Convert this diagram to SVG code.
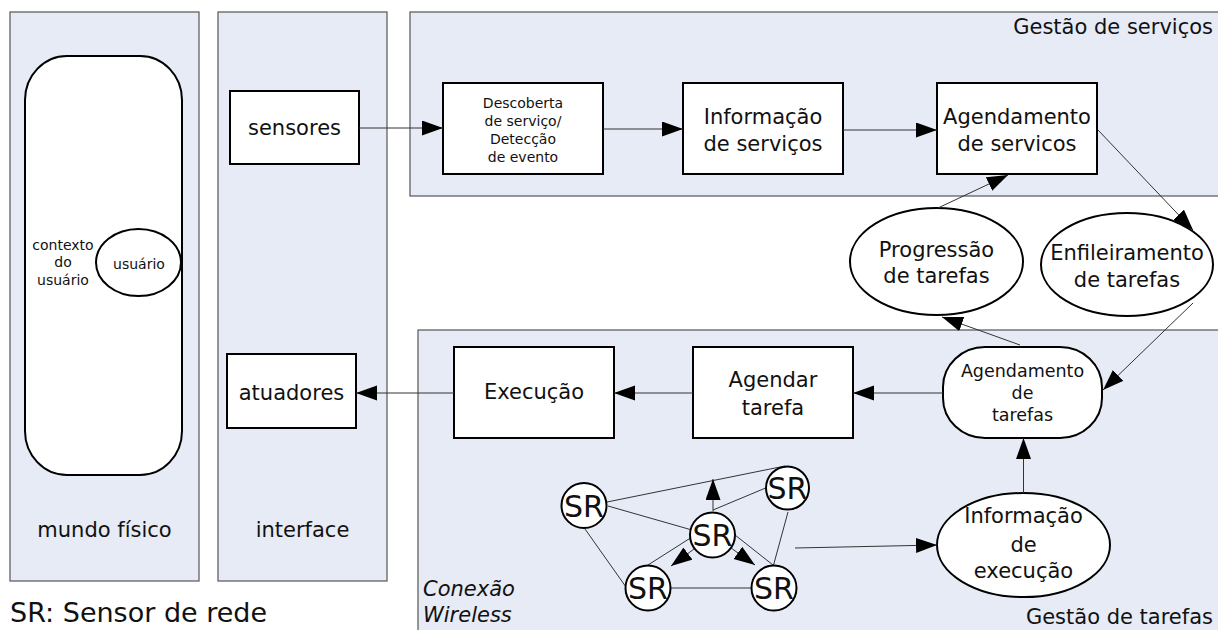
<svg xmlns="http://www.w3.org/2000/svg" width="1218" height="630" viewBox="0 0 1218 630">
<style>
  .panel { fill: #e6ebf5; stroke: #555; stroke-width: 1.2; }
  .box { fill: #fff; stroke: #000; stroke-width: 2; }
  .conn { stroke: #333; stroke-width: 1; fill: none; }
  .net { stroke: #333; stroke-width: 1; fill: none; }
  text { font-family: "DejaVu Sans", Verdana, sans-serif; fill: #111; }
  .c { text-anchor: middle; }
  .f21 { font-size: 21px; }
  .f14 { font-size: 14px; }
  .f17 { font-size: 17.5px; }
  .sr { font-size: 30px; text-anchor: middle; }
</style>
<defs>
  <marker id="ah" markerUnits="userSpaceOnUse" markerWidth="22" markerHeight="16" refX="21" refY="7.5" orient="auto">
    <path d="M0,0 L21,7.5 L0,15 z" fill="#000"/>
  </marker>
</defs>

<g id="panel-mundo">
  <rect class="panel" x="10" y="12" width="189" height="569"/>
  <text class="f21 c" x="104.5" y="537">mundo físico</text>
</g>
<g id="panel-interface">
  <rect class="panel" x="218" y="12" width="169" height="569"/>
  <text class="f21 c" x="302.5" y="537">interface</text>
</g>
<g id="panel-servicos">
  <rect class="panel" x="410" y="12" width="820" height="184"/>
  <text class="f21" x="1213" y="34" text-anchor="end">Gestão de serviços</text>
</g>
<g id="panel-tarefas">
  <rect class="panel" x="418" y="330" width="820" height="320"/>
  <text class="f21" x="1213" y="624" text-anchor="end">Gestão de tarefas</text>
  <text class="f21" x="423" y="596" font-style="italic">Conexão</text>
  <text class="f21" x="423" y="622" font-style="italic">Wireless</text>
</g>

<g id="contexto">
  <rect class="box" x="25" y="56" width="157" height="419" rx="42" ry="44"/>
  <text class="f14 c" x="63" y="250">contexto</text>
  <text class="f14 c" x="63" y="267">do</text>
  <text class="f14 c" x="63" y="285">usuário</text>
</g>
<g id="usuario">
  <ellipse class="box" cx="138.5" cy="262.5" rx="42.5" ry="33.5"/>
  <text class="f14 c" x="139" y="269">usuário</text>
</g>

<g id="sensores">
  <rect class="box" x="230" y="91" width="129" height="73"/>
  <text class="f21 c" x="294.5" y="135">sensores</text>
</g>
<g id="atuadores">
  <rect class="box" x="227" y="354" width="129" height="74"/>
  <text class="f21 c" x="291.5" y="400">atuadores</text>
</g>

<g id="descoberta">
  <rect class="box" x="443" y="83" width="160" height="91"/>
  <text class="f14 c" x="523" y="108">Descoberta</text>
  <text class="f14 c" x="523" y="126">de serviço/</text>
  <text class="f14 c" x="523" y="144">Detecção</text>
  <text class="f14 c" x="523" y="162">de evento</text>
</g>
<g id="info-servicos">
  <rect class="box" x="683" y="83" width="160" height="91"/>
  <text class="f21 c" x="763" y="124">Informação</text>
  <text class="f21 c" x="763" y="151">de serviços</text>
</g>
<g id="agend-servicos">
  <rect class="box" x="937" y="83" width="160" height="91"/>
  <text class="f21 c" x="1017" y="124">Agendamento</text>
  <text class="f21 c" x="1017" y="151">de servicos</text>
</g>

<g id="progressao">
  <ellipse class="box" cx="936.5" cy="261.5" rx="86.5" ry="53.5"/>
  <text class="f21 c" x="936.5" y="257">Progressão</text>
  <text class="f21 c" x="936.5" y="283">de tarefas</text>
</g>
<g id="enfileiramento">
  <ellipse class="box" cx="1127" cy="264.5" rx="86" ry="51.5"/>
  <text class="f21 c" x="1127" y="260">Enfileiramento</text>
  <text class="f21 c" x="1127" y="287">de tarefas</text>
</g>

<g id="execucao">
  <rect class="box" x="454" y="347" width="160" height="91"/>
  <text class="f21 c" x="534" y="399">Execução</text>
</g>
<g id="agendar-tarefa">
  <rect class="box" x="693" y="347" width="160" height="91"/>
  <text class="f21 c" x="773" y="387">Agendar</text>
  <text class="f21 c" x="773" y="415">tarefa</text>
</g>
<g id="agend-tarefas">
  <rect class="box" x="943" y="347" width="159" height="91" rx="42" ry="40"/>
  <text class="f17 c" x="1022.5" y="377">Agendamento</text>
  <text class="f17 c" x="1022.5" y="399">de</text>
  <text class="f17 c" x="1022.5" y="421">tarefas</text>
</g>
<g id="info-execucao">
  <ellipse class="box" cx="1023.5" cy="545" rx="86.5" ry="52"/>
  <text class="f21 c" x="1023.5" y="523">Informação</text>
  <text class="f21 c" x="1023.5" y="552">de</text>
  <text class="f21 c" x="1023.5" y="578">execução</text>
</g>

<g id="connectors">
  <line class="conn" x1="359" y1="128" x2="443" y2="128" marker-end="url(#ah)"/>
  <line class="conn" x1="603" y1="129" x2="683" y2="129" marker-end="url(#ah)"/>
  <line class="conn" x1="843" y1="130" x2="937" y2="130" marker-end="url(#ah)"/>
  <line class="conn" x1="1098" y1="130" x2="1193" y2="230" marker-end="url(#ah)"/>
  <line class="conn" x1="938" y1="208" x2="1008" y2="175" marker-end="url(#ah)"/>
  <line class="conn" x1="1193" y1="303" x2="1103" y2="390" marker-end="url(#ah)"/>
  <line class="conn" x1="1020" y1="345" x2="942" y2="317" marker-end="url(#ah)"/>
  <line class="conn" x1="943" y1="393" x2="853" y2="393" marker-end="url(#ah)"/>
  <line class="conn" x1="693" y1="393" x2="614" y2="393" marker-end="url(#ah)"/>
  <line class="conn" x1="454" y1="393" x2="356" y2="393" marker-end="url(#ah)"/>
  <line class="conn" x1="1023.5" y1="493" x2="1023.5" y2="438" marker-end="url(#ah)"/>
  <line class="conn" x1="795" y1="548" x2="937" y2="545" marker-end="url(#ah)"/>
</g>

<g id="rede">
  <line class="net" x1="607" y1="502" x2="785" y2="466"/>
  <line class="net" x1="608" y1="506" x2="692" y2="530"/>
  <line class="net" x1="585" y1="529" x2="626" y2="587"/>
  <line class="net" x1="713" y1="510" x2="768" y2="487"/>
  <line class="net" x1="788" y1="512" x2="773" y2="567"/>
  <line class="net" x1="692" y1="537" x2="648" y2="565"/>
  <line class="net" x1="735" y1="535" x2="773" y2="565"/>
  <line class="net" x1="671" y1="588" x2="752" y2="588"/>
  <line class="net" x1="713" y1="511" x2="713" y2="479" marker-end="url(#ah)"/>
  <line class="net" x1="694" y1="549" x2="671" y2="566" marker-end="url(#ah)"/>
  <line class="net" x1="731" y1="548" x2="755" y2="565" marker-end="url(#ah)"/>
</g>

<g id="sr1">
  <circle class="box" cx="584" cy="505.5" r="22.5"/>
  <text class="sr" x="584" y="516.5">SR</text>
</g>
<g id="sr2">
  <circle class="box" cx="787.5" cy="488" r="21.5"/>
  <text class="sr" x="787.5" y="499">SR</text>
</g>
<g id="sr3">
  <circle class="box" cx="712.5" cy="535" r="22.5"/>
  <text class="sr" x="712.5" y="546">SR</text>
</g>
<g id="sr4">
  <circle class="box" cx="648" cy="588" r="22.5"/>
  <text class="sr" x="648" y="599">SR</text>
</g>
<g id="sr5">
  <circle class="box" cx="774" cy="588" r="22.5"/>
  <text class="sr" x="774" y="599">SR</text>
</g>

<g id="legenda">
  <text x="10" y="622" font-size="27">SR: Sensor de rede</text>
</g>
</svg>
